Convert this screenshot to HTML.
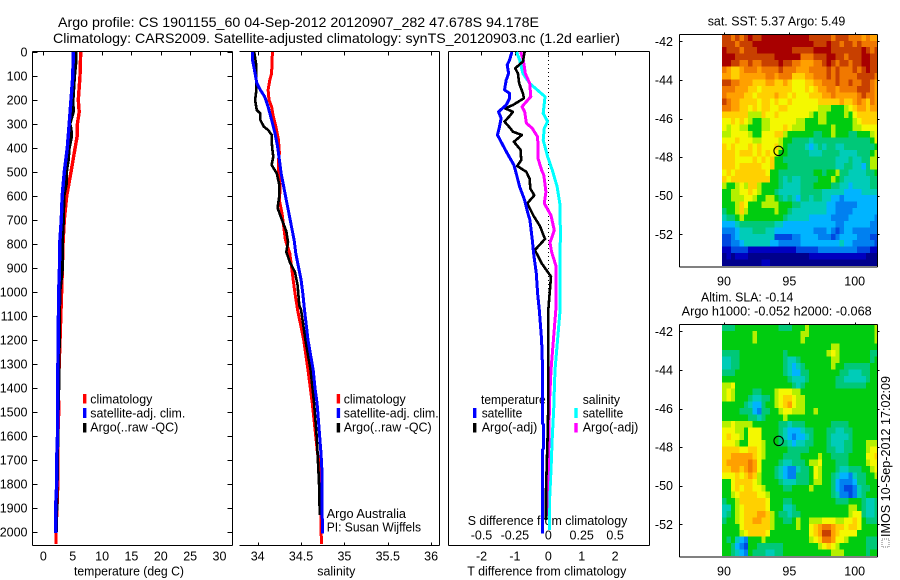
<!DOCTYPE html>
<html>
<head>
<meta charset="utf-8">
<title>Argo profile</title>
<style>
html,body{margin:0;padding:0;background:#fff;}
svg{display:block;}
text{font-family:"Liberation Sans",sans-serif;font-size:12.5px;fill:#000;}
.t{font-size:14px;}
</style>
</head>
<body>
<svg id="chart" xmlns="http://www.w3.org/2000/svg" width="900" height="580" viewBox="0 0 900 580">
<defs>
<clipPath id="mapclip1"><rect x="722" y="34" width="155" height="232"/></clipPath>
<clipPath id="mapclip2"><rect x="722" y="324" width="155" height="232"/></clipPath>
</defs>
<rect x="0" y="0" width="900" height="580" fill="#fff"/>
<text class="t" x="58" y="27" textLength="481" lengthAdjust="spacingAndGlyphs">Argo profile: CS 1901155_60 04-Sep-2012 20120907_282 47.678S 94.178E</text>
<text class="t" x="53" y="43" textLength="567" lengthAdjust="spacingAndGlyphs">Climatology: CARS2009. Satellite-adjusted climatology: synTS_20120903.nc (1.2d earlier)</text>

<text x="74" y="575.5" textLength="110" lengthAdjust="spacingAndGlyphs">temperature (deg C)</text>
<text x="317.3" y="575.5" textLength="38" lengthAdjust="spacingAndGlyphs">salinity</text>
<text x="467.3" y="575.5" textLength="159" lengthAdjust="spacingAndGlyphs">T difference from climatology</text>
<text x="467.7" y="525" textLength="159.6" lengthAdjust="spacingAndGlyphs">S difference from climatology</text>

<text x="481" y="404" textLength="64.7" lengthAdjust="spacingAndGlyphs">temperature</text>
<text x="582.7" y="404" textLength="37.3" lengthAdjust="spacingAndGlyphs">salinity</text>

<text x="707.7" y="25.7" textLength="137.6" lengthAdjust="spacingAndGlyphs">sat. SST: 5.37 Argo: 5.49</text>
<text x="701" y="301.7" textLength="92.3" lengthAdjust="spacingAndGlyphs">Altim. SLA: -0.14</text>
<text x="681.7" y="315.7" textLength="190" lengthAdjust="spacingAndGlyphs">Argo h1000: -0.052 h2000: -0.068</text>

<g id="panels"></g>

<g>
<rect x="83" y="394" width="3.4" height="9.5" fill="#f00"/>
<rect x="83" y="408" width="3.4" height="10" fill="#00f"/>
<rect x="83" y="423" width="3.4" height="9.5" fill="#000"/>
<text x="90.3" y="403.5" textLength="62" lengthAdjust="spacingAndGlyphs">climatology</text>
<text x="90.3" y="417.7" textLength="95" lengthAdjust="spacingAndGlyphs">satellite-adj. clim.</text>
<text x="90.3" y="431.7" textLength="88" lengthAdjust="spacingAndGlyphs">Argo(..raw -QC)</text>
</g>
<g>
<rect x="336.7" y="394" width="3.4" height="9.5" fill="#f00"/>
<rect x="336.7" y="408" width="3.4" height="10" fill="#00f"/>
<rect x="336.7" y="423" width="3.4" height="9.5" fill="#000"/>
<text x="343.7" y="403.5" textLength="62" lengthAdjust="spacingAndGlyphs">climatology</text>
<text x="343.7" y="417.7" textLength="95" lengthAdjust="spacingAndGlyphs">satellite-adj. clim.</text>
<text x="343.7" y="431.7" textLength="88" lengthAdjust="spacingAndGlyphs">Argo(..raw -QC)</text>
<text x="326.7" y="518" textLength="79.3" lengthAdjust="spacingAndGlyphs">Argo Australia</text>
<text x="326.7" y="531.7" textLength="94.3" lengthAdjust="spacingAndGlyphs">PI: Susan Wijffels</text>
</g>
<g>
<rect x="473" y="408" width="3.4" height="10" fill="#00f"/>
<rect x="473" y="423" width="3.4" height="9.5" fill="#000"/>
<rect x="574.3" y="408" width="3.4" height="10" fill="#0ff"/>
<rect x="574.3" y="423" width="3.4" height="9.5" fill="#f0f"/>
<text x="481.7" y="417.7" textLength="40.6" lengthAdjust="spacingAndGlyphs">satellite</text>
<text x="481.7" y="431.7" textLength="55.6" lengthAdjust="spacingAndGlyphs">Argo(-adj)</text>
<text x="582.7" y="417.7" textLength="40.6" lengthAdjust="spacingAndGlyphs">satellite</text>
<text x="582.7" y="431.7" textLength="55.6" lengthAdjust="spacingAndGlyphs">Argo(-adj)</text>
</g>

<rect x="882" y="539" width="7" height="8" fill="none" stroke="#777" stroke-width="1" stroke-dasharray="1 1"/>
<text transform="translate(890,537) rotate(-90)" x="0" y="0" textLength="161" lengthAdjust="spacingAndGlyphs">IMOS 10-Sep-2012 17:02:09</text>
</svg>

<script>
// ---------- Axis tick values ----------
var depthTicks = [0,100,200,300,400,500,600,700,800,900,1000,1100,1200,1300,1400,1500,1600,1700,1800,1900,2000];
var tempTicks = [0,5,10,15,20,25,30];
var salTicks = [34,34.5,35,35.5,36];
var salTickLabels = ['34','34.5','35','35.5','36'];
var tDiffTicks = [-2,-1,0,1,2];
var tDiffLabels = ['-2','-1','0','1','2'];
var sDiffTicks = [-0.5,-0.25,0,0.25,0.5];
var sDiffLabels = ['-0.5','-0.25','0','0.25','0.5'];
var latTicks = [-42,-44,-46,-48,-50,-52];
var lonTicks = [90,95,100];

// ---------- Temperature profiles ----------
var tempClimDepth = [0,100,200,250,300,350,400,500,600,700,800,950,1400,1500,1600,1800,1900,2000,2050];
var tempClim = [6.35,6.24,5.95,6.1,5.8,5.75,5.4,4.7,3.97,3.56,3.34,3.17,2.55,2.6,2.45,2.45,2.3,2.15,2.15];
var tempArgoDepth = [0,30,50,100,200,250,300,320,350,400,450,490,550,600,700,750,800,900,1000,1400,1500,1700,2000];
var tempArgo = [5.55,5.55,5.5,5.3,5.05,5.1,4.5,4.7,4.8,4.4,4.25,3.97,3.9,3.5,3.4,3.3,3.2,3.25,2.8,2.6,2.5,2.4,2.2];
var tempSatDepth = [0,100,200,300,400,500,600,700,800,900,1000,1400,1500,1600,1700,1800,1900,2005];
var tempSat = [5.1,5.0,4.7,4.4,4.07,3.56,3.2,3.05,2.77,2.75,2.6,2.43,2.43,2.4,2.26,2.26,2.08,2.08];

// ---------- Salinity profiles ----------
var salClimDepth = [0,89,117,158,200,228,269,311,367,422,450,506,561,617,672,728,783,839,894,950,1006,1075,1200,1325,1464,1603,1672,1742,2050];
var salClim = [34.17,34.16,34.14,34.12,34.13,34.16,34.18,34.21,34.24,34.25,34.24,34.24,34.26,34.25,34.28,34.3,34.32,34.37,34.39,34.41,34.43,34.46,34.53,34.58,34.63,34.67,34.69,34.72,34.735];
var salArgoDepth = [0,47,89,158,200,242,256,283,311,325,345,367,408,436,471,506,556,597,650,700,747,792,833,875,917,972,1056,1075,1200,1325,1464,1603,1742,1825,1930];
var salArgo = [33.96,33.98,33.985,33.985,33.97,33.99,34.03,34.03,34.07,34.12,34.16,34.16,34.17,34.18,34.16,34.22,34.25,34.25,34.23,34.28,34.33,34.35,34.33,34.37,34.43,34.46,34.48,34.5,34.55,34.61,34.65,34.68,34.7,34.71,34.715];
var salSatDepth = [0,33,89,130,158,186,228,283,339,394,450,505,561,617,672,728,783,839,894,950,1006,1075,1200,1325,1397,1464,1533,1603,1672,1742,1881,1950,2006];
var salSat = [33.94,33.94,33.97,33.99,34.03,34.08,34.12,34.16,34.2,34.23,34.25,34.27,34.3,34.33,34.36,34.39,34.42,34.44,34.47,34.5,34.52,34.54,34.58,34.64,34.66,34.685,34.7,34.715,34.73,34.74,34.74,34.745,34.745];

// ---------- Difference profiles ----------
var dTSatDepth = [0,33,54,89,117,158,172,193,221,249,276,311,346,381,422,471,506,561,617,672,700,783,839,922,1006,1075,1200,1325,1547,1555,1650,1658,2006];
var dTSat = [-1.09,-1.16,-1.23,-1.19,-1.26,-1.31,-1.16,-1.16,-1.26,-1.49,-1.41,-1.46,-1.52,-1.39,-1.23,-1.03,-0.96,-0.86,-0.71,-0.61,-0.55,-0.48,-0.44,-0.36,-0.32,-0.27,-0.2,-0.17,-0.17,-0.14,-0.14,-0.17,-0.17];
var dTArgoDepth = [0,40,68,89,131,172,193,221,235,249,267,290,314,332,346,374,408,450,475,499,528,569,597,631,681,725,779,825,880,936,1075,1325,1464,1603,1742,1825,1950];
var dTArgo = [-0.71,-0.76,-0.99,-0.91,-0.87,-0.76,-0.73,-1.06,-1.29,-1.06,-1.16,-1.31,-1.16,-1.06,-0.79,-1.03,-0.83,-0.81,-0.93,-0.66,-0.56,-0.54,-0.42,-0.63,-0.45,-0.25,-0.1,-0.4,-0.2,0.08,0,0,0,-0.02,-0.05,-0.07,-0.07];
var dSCyanDepth = [0,33,89,131,186,214,256,290,317,367,436,492,561,631,769,839,922,1075,1325,1408,1464,1603,1742,1881,1992];
var dSCyan = [-0.237,-0.215,-0.19,-0.139,-0.025,-0.03,-0.038,-0.005,-0.03,-0.038,-0.005,0.03,0.066,0.086,0.091,0.086,0.088,0.088,0.05,0.045,0.043,0.03,0.02,0.008,0.008];
var dSArgoDepth = [0,33,89,131,186,228,249,297,317,353,394,444,492,514,583,631,681,743,794,833,889,944,1075,1325,1464,1603,1742,1850,1933];
var dSArgo = [-0.207,-0.187,-0.172,-0.139,-0.131,-0.197,-0.177,-0.164,-0.121,-0.081,-0.076,-0.076,-0.05,-0.033,-0.018,-0.03,0.02,0.045,0.013,0.025,0.056,0.056,0.056,0.02,0.008,0.005,0,-0.01,-0.013];

// ---------- Map grids (one level character per cell, 36 rows x 36 columns) ----------
var sstRows = [
"ddcdcd eddeee eeeeee eedddd dcdddc ccbcbb",
"dddcdd deeeee eeeeee eeeddd eddcdd cdcccc",
"edddcd ddeeee eeeedd dddeee eddddd ddedcd",
"eeeddd dddddd eeeeee cccddd eeddcd ddeedd",
"eeddcc dccddd deddcc bbbccd edcddc ddeedd",
"cbaabc ccbccc cdcccb bbcccc dcdccc dcdedd",
"bbaabb bbbbcc bcccaa abbccc dcdccc cddddc",
"ddccbb baaabb aaba99 9aabbc ccdccd ccddcb",
"cccbbb aa9aaa aaaa99 9a9abb ccbccc cdddcb",
"cbbbba a9aaaa baa9a9 99aaab bcbbbb bcdccb",
"dcbbaa aa9aa9 a99a99 9999aa aaabaa bcbacb",
"ccbbaa 9a9aa9 9aa999 999988 877789 abbabb",
"aaaaaa 888a99 a99999 998788 777787 9aaaaa",
"99a9a9 877889 999998 877788 777777 89aaaa",
"989988 777889 99a988 877777 787777 889999",
"889999 877999 aa8777 777667 787776 677789",
"999a99 988999 987766 665666 666666 666679",
"a9a999 a9a999 a87666 654565 665566 666667",
"aaa9aa a9a9a9 977666 665556 666555 566678",
"aaa999 9a9a9a 776666 666666 665556 556688",
"aaa9aa aaa99a 777666 666666 665566 554688",
"9a9aaa aaaa97 766666 666776 778665 555667",
"a9aaaa aaaaa7 765655 666677 787655 555566",
"877898 aa8777 765555 666777 766554 555566",
"778899 a98777 655555 666665 555544 445555",
"778889 987788 765654 665665 544344 444444",
"7778a9 777888 877766 555555 443333 344444",
"6778a8 777777 877655 555555 443333 444444",
"566787 777777 776555 554444 433334 444443",
"444566 666666 554444 444444 443344 444433",
"333455 566655 444444 444333 432344 333333",
"223455 555555 222233 444433 323444 433322",
"223345 555554 433333 444444 444544 333332",
"112222 111111 111112 222233 333333 322211",
"010111 000000 000000 001111 111111 111000",
"000000 000110 000000 000000 000000 000000"
];
var slaRows = [
"666777 777777 766677 787777 777777 777778",
"777777 787777 777777 887777 777777 777778",
"777777 787777 777777 877777 777777 777778",
"777777 777777 777777 777777 788777 777777",
"666677 777777 776777 777777 898777 777766",
"556677 777777 776556 777777 788777 777767",
"556677 777777 776545 677777 787766 666677",
"666777 777777 776544 667777 777665 556677",
"777777 777777 777655 567777 776655 555677",
"889777 777777 777765 677777 776666 666777",
"898777 766777 899988 777777 777777 777777",
"898777 655667 89aa98 877777 777777 777777",
"777776 544677 89ab98 877777 777777 777777",
"777766 643667 789988 877877 777777 777777",
"777777 665677 778777 777777 777777 777777",
"889888 877777 766566 677777 766667 777777",
"999887 999777 765444 566777 665566 777777",
"9a9987 999777 765434 456777 655556 777777",
"999877 999877 766545 566777 655566 777888",
"aaaa99 aa9877 777666 667777 665566 777899",
"aabbbb ba9877 776666 777787 766667 77799a",
"abbbbb cb9777 765566 678897 776667 777899",
"aabbab cb9777 654335 667987 776556 667789",
"999a9a ba8777 654336 667987 765443 566778",
"779aaa a98777 765556 667887 764333 466777",
"779a9a a99877 776677 778777 764322 356677",
"7789aa aa9987 777777 777777 765332 356777",
"6778aa aaaa97 776677 777777 776667 776556",
"55789a aaaa97 775567 777777 777778 876556",
"56789a aabba8 766566 777777 777778 996556",
"67789a abbaa8 776678 778889 998899 a97666",
"77779a aaaaa8 777778 779abc cbaa9a a97777",
"777789 aaaa97 777777 779abd dba999 977777",
"767543 777877 777777 7789ac cb9987 777666",
"776432 776666 667777 777789 a98777 777666",
"776543 766655 667777 777777 788877 777677"
];
var argoLon = [94.178];
var argoLat = [-47.678];
var mapPalette = ['#00008c','#0000c0','#0048e0','#0080f0','#00b4ff','#00ccb8','#00c878','#00cc10','#b4f000','#f4f800','#ffd000','#ffa000','#f07800','#c84000','#a80000'];

// ---------- Axis functions ----------
function yDepth(d){ return 52 + d * 0.24; }
function xTemp(v){ return 43.4 + v * 5.87; }
function xSal(v){ return 257.7 + (v - 34) * 86.7; }
function xDT(v){ return 548.3 + v * 33.4; }
function xDS(v){ return 548.3 + v * 133.6; }
function xLon(v){ return 724 + (v - 90) * 13.07; }
function yLat1(v){ return 41.3 + (-42 - v) * 19.3; }
function yLat2(v){ return 331.3 + (-42 - v) * 19.3; }

var NS = 'http://www.w3.org/2000/svg';
var root = document.getElementById('panels');
function mk(tag, attrs, parent){
  var e = document.createElementNS(NS, tag);
  for (var k in attrs) e.setAttribute(k, attrs[k]);
  (parent || root).appendChild(e);
  return e;
}
function drawLine(x1,y1,x2,y2,name,parent){
  var el = mk('line',{x1:x1,y1:y1,x2:x2,y2:y2,stroke:'#000','stroke-width':1,'shape-rendering':'crispEdges'},parent);
  
  
  return el;
}
function drawText(x,y,s,anchor,name,parent){
  var el = mk('text',{x:x,y:y,'text-anchor':anchor},parent);
  el.textContent = s;
  
  
  return el;
}
function drawSeries(depths, vals, xf, color, w, name){
  var pts = [];
  for (var i = 0; i < depths.length; i++) pts.push(xf(vals[i]).toFixed(1) + ',' + yDepth(depths[i]).toFixed(1));
  var el = mk('polyline',{points:pts.join(' '),fill:'none',stroke:color,'stroke-width':w,'stroke-linejoin':'round','shape-rendering':'crispEdges'});
  
  
}

// ---------- Panel frames ----------
var panelBoxes = [[32.5,232.5],[239.5,439.5],[448.5,649.5]];
panelBoxes.forEach(function(b, idx){
  drawLine(b[0],51.5,b[1],51.5,'panel-top-spine');
  drawLine(b[0],545.5,b[1],545.5,'panel-bottom-spine');
  if (idx !== 1) drawLine(b[0],51.5,b[0],545.5,'panel-left-spine');
  drawLine(b[1],51.5,b[1],545.5,'panel-right-spine');
});

// depth ticks (panel 1)
depthTicks.forEach(function(d){
  var y = Math.round(yDepth(d)) + 0.5;
  drawLine(32.5,y,37.5,y,'depth-tick-left');
  drawLine(227.5,y,232.5,y,'depth-tick-right');
  drawText(27.5,yDepth(d)+4.5,String(d),'end','depth-tick-label');
});
tempTicks.forEach(function(v){
  var x = Math.round(xTemp(v)) + 0.5;
  drawLine(x,51.5,x,55.5,'temperature-tick');
  drawText(xTemp(v),560.7,String(v),'middle','temperature-tick-label');
});
salTicks.forEach(function(v,i){
  var x = Math.round(xSal(v)) + 0.5;
  drawLine(x,51.5,x,55.5,'salinity-tick-top');
  drawLine(x,542.5,x,545.5,'salinity-tick-bottom');
  drawText(xSal(v),560.7,salTickLabels[i],'middle','salinity-tick-label');
});
tDiffTicks.forEach(function(v,i){
  var x = Math.round(xDT(v)) + 0.5;
  drawLine(x,51.5,x,55.5,'t-difference-tick');
  drawText(xDT(v),560.7,tDiffLabels[i],'middle','t-difference-tick-label');
});
sDiffTicks.forEach(function(v,i){
  drawText(xDS(v),539.3,sDiffLabels[i],'middle','s-difference-tick-label');
});

// zero reference line
var zeroLine = mk('line',{x1:xDT(0),y1:52,x2:xDT(0),y2:530,stroke:'#000','stroke-width':1,'stroke-dasharray':'1 3','shape-rendering':'crispEdges'});



// ---------- Profiles ----------
drawSeries(tempClimDepth,tempClim,xTemp,'#f00',3.4,'temperature-climatology-line');
drawSeries(tempArgoDepth,tempArgo,xTemp,'#000',3.2,'temperature-argo-line');
drawSeries(tempSatDepth,tempSat,xTemp,'#00f',3.4,'temperature-satellite-line');

drawSeries(salClimDepth,salClim,xSal,'#f00',3,'salinity-climatology-line');
drawSeries(salArgoDepth,salArgo,xSal,'#000',2.6,'salinity-argo-line');
drawSeries(salSatDepth,salSat,xSal,'#00f',3,'salinity-satellite-line');

drawSeries(dSCyanDepth,dSCyan,xDS,'#0ff',3,'s-difference-satellite-line');
drawSeries(dSArgoDepth,dSArgo,xDS,'#f0f',3,'s-difference-argo-line');
drawSeries(dTArgoDepth,dTArgo,xDT,'#000',2.6,'t-difference-argo-line');
drawSeries(dTSatDepth,dTSat,xDT,'#00f',3,'t-difference-satellite-line');

// ---------- Maps ----------
function drawMap(rows, yLat, clipId, top, cellName, prefix){
  var g = mk('g',{'clip-path':'url(#' + clipId + ')','shape-rendering':'crispEdges'});
  
  
  var lon0 = 89.85, step = 1 / 3, lat0 = -41.64;
  rows.forEach(function(r, ri){
    var cells = r.replace(/ /g,'');
    for (var ci = 0; ci < cells.length; ci++){
      var lon = lon0 + ci * step;
      var lat = lat0 - ri * step;
      var x = xLon(lon), y = yLat(lat);
      var cell = mk('rect',{x:x.toFixed(2),y:y.toFixed(2),width:(13.07*step+0.5).toFixed(2),height:(19.3*step+0.5).toFixed(2),fill:mapPalette[parseInt(cells[ci],16)]},g);
      
      
    }
  });
  // frame
  var left = 679.5, right = 877.5, bot = top + 232.5;
  drawLine(left,top,right,top,prefix + '-frame-top');
  drawLine(left,bot,right,bot,prefix + '-frame-bottom');
  drawLine(left,top,left,bot,prefix + '-frame-left');
  drawLine(right,top,right,bot,prefix + '-frame-right');
  latTicks.forEach(function(v){
    var y = Math.round(yLat(v)) + 0.5;
    drawLine(left,y,left+3,y,prefix + '-lat-tick');
    drawLine(right,y,right+2,y,prefix + '-lat-tick-right');
    drawText(673,yLat(v)+4.5,String(v),'end',prefix + '-lat-tick-label');
  });
  lonTicks.forEach(function(v){
    var x = Math.round(xLon(v)) + 0.5;
    drawLine(x,top-2,x,top,prefix + '-lon-tick');
    drawText(xLon(v),bot+18.5,String(v),'middle',prefix + '-lon-tick-label');
  });
  var c = mk('circle',{cx:xLon(argoLon[0]),cy:yLat(argoLat[0]),r:4.7,fill:'none',stroke:'#000','stroke-width':1.1});
  
  
}
drawMap(sstRows, yLat1, 'mapclip1', 34.5, 'sst-cell', 'sst-map');
drawMap(slaRows, yLat2, 'mapclip2', 324.5, 'sla-cell', 'sla-map');
</script>
</body>
</html>
